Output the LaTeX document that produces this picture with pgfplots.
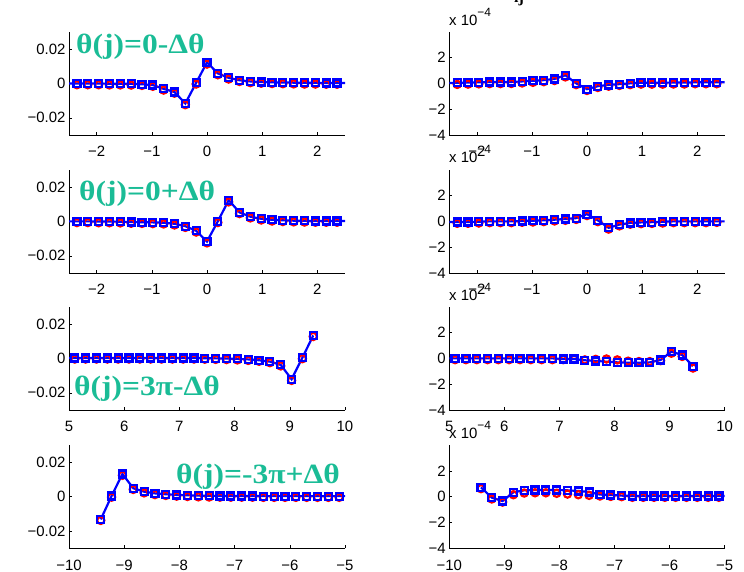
\documentclass[border=0pt]{standalone}
\usepackage{pgfplots}
\pgfplotsset{compat=1.18}
\usepackage{pgfplotstable}
\usepackage{graphicx}
\usepackage{fontspec}
\setmainfont{Liberation Sans}
\newfontfamily\annfont{Liberation Serif}
\definecolor{teal}{RGB}{26,188,150}

\pgfplotstableread{
x b r
-2.5525 -0.0001 -0.0008
-2.3562 -0.0001 -0.0008
-2.1598 -0.0001 -0.0008
-1.9635 -0.0001 -0.0008
-1.7671 -0.0002 -0.0009
-1.5708 -0.0002 -0.0009
-1.3744 -0.0003 -0.0010
-1.1781 -0.0005 -0.0012
-0.9817 -0.0010 -0.0017
-0.7854 -0.0032 -0.0039
-0.5890 -0.0050 -0.0057
-0.3927 -0.0117 -0.0124
-0.1963 0.0003 -0.0004
0 0.0122 0.0112
0.1963 0.0058 0.0050
0.3927 0.0032 0.0025
0.5890 0.0018 0.0011
0.7854 0.0011 0.0004
0.9817 0.0008 0.0001
1.1781 0.0006 -0.0001
1.3744 0.0005 -0.0002
1.5708 0.0004 -0.0003
1.7671 0.0003 -0.0004
1.9635 0.0003 -0.0004
2.1598 0.0002 -0.0005
2.3562 0.0002 -0.0005
2.5525 0.0002 -0.0005
}\tA

\pgfplotstableread{
x b r
-2.5525 0.0000 -0.0007
-2.3562 0.0000 -0.0007
-2.1598 0.0000 -0.0007
-1.9635 -0.0001 -0.0008
-1.7671 -0.0001 -0.0008
-1.5708 -0.0002 -0.0009
-1.3744 -0.0004 -0.0011
-1.1781 -0.0005 -0.0012
-0.9817 -0.0006 -0.0013
-0.7854 -0.0008 -0.0015
-0.5890 -0.0014 -0.0021
-0.3927 -0.0028 -0.0035
-0.1963 -0.0055 -0.0062
0 -0.0117 -0.0125
0.1963 0.0000 -0.0007
0.3927 0.0123 0.0113
0.5890 0.0052 0.0045
0.7854 0.0027 0.0020
0.9817 0.0015 0.0008
1.1781 0.0009 0.0002
1.3744 0.0006 -0.0001
1.5708 0.0004 -0.0003
1.7671 0.0003 -0.0004
1.9635 0.0002 -0.0005
2.1598 0.0002 -0.0005
2.3562 0.0002 -0.0005
2.5525 0.0002 -0.0005
}\tB

\pgfplotstableread{
x b r
4.9087 0.0002 -0.0004
5.1051 0.0002 -0.0004
5.3014 0.0002 -0.0004
5.4978 0.0002 -0.0004
5.6941 0.0002 -0.0004
5.8905 0.0002 -0.0004
6.0868 0.0002 -0.0004
6.2832 0.0002 -0.0004
6.4795 0.0002 -0.0004
6.6759 0.0002 -0.0004
6.8722 0.0002 -0.0004
7.0686 0.0002 -0.0004
7.2649 0.0002 -0.0004
7.4613 0.0001 -0.0005
7.6576 0.0000 -0.0006
7.8540 -0.0001 -0.0007
8.0503 -0.0003 -0.0009
8.2467 -0.0006 -0.0012
8.4430 -0.0011 -0.0017
8.6394 -0.0019 -0.0025
8.8357 -0.0038 -0.0044
9.0321 -0.0121 -0.0128
9.2284 0.0004 -0.0002
9.4248 0.0133 0.0127
}\tC

\pgfplotstableread{
x b r
-9.4248 -0.0132 -0.0138
-9.2284 0.0004 -0.0003
-9.0321 0.0132 0.0124
-8.8357 0.0049 0.0042
-8.6394 0.0029 0.0022
-8.4430 0.0019 0.0012
-8.2467 0.0014 0.0007
-8.0503 0.0010 0.0003
-7.8540 0.0008 0.0001
-7.6576 0.0006 -0.0001
-7.4613 0.0005 -0.0002
-7.2649 0.0004 -0.0003
-7.0686 0.0004 -0.0003
-6.8722 0.0004 -0.0003
-6.6759 0.0004 -0.0003
-6.4795 0.0003 -0.0004
-6.2832 0.0003 -0.0004
-6.0868 0.0003 -0.0004
-5.8905 0.0003 -0.0004
-5.6941 0.0003 -0.0004
-5.4978 0.0003 -0.0004
-5.3014 0.0003 -0.0004
-5.1051 0.0003 -0.0004
-4.9087 0.0003 -0.0004
}\tD

\pgfplotstableread{
x b r
-2.5525 0.03 -0.08
-2.3562 0.04 -0.08
-2.1598 0.06 -0.06
-1.9635 0.08 -0.04
-1.7671 0.10 -0.02
-1.5708 0.10 -0.02
-1.3744 0.11 -0.01
-1.1781 0.15 0.03
-0.9817 0.20 0.08
-0.7854 0.25 0.13
-0.5890 0.34 0.22
-0.3927 0.63 0.50
-0.1963 0.00 -0.10
0 -0.45 -0.55
0.1963 -0.22 -0.32
0.3927 -0.12 -0.22
0.5890 -0.06 -0.16
0.7854 0.00 -0.10
0.9817 0.05 -0.06
1.1781 0.05 -0.06
1.3744 0.05 -0.06
1.5708 0.06 -0.05
1.7671 0.06 -0.05
1.9635 0.08 -0.03
2.1598 0.08 -0.03
2.3562 0.08 -0.03
2.5525 0.08 -0.03
}\tE

\pgfplotstableread{
x b r
-2.5525 -0.05 -0.15
-2.3562 -0.05 -0.15
-2.1598 -0.05 -0.15
-1.9635 -0.03 -0.13
-1.7671 0.00 -0.10
-1.5708 0.00 -0.10
-1.3744 0.00 -0.10
-1.1781 0.03 -0.07
-0.9817 0.05 -0.05
-0.7854 0.08 -0.02
-0.5890 0.13 0.03
-0.3927 0.18 0.08
-0.1963 0.25 0.15
0 0.56 0.45
0.1963 0.08 -0.02
0.3927 -0.50 -0.60
0.5890 -0.25 -0.35
0.7854 -0.12 -0.22
0.9817 -0.08 -0.18
1.1781 -0.06 -0.16
1.3744 -0.03 -0.13
1.5708 0.00 -0.10
1.7671 0.00 -0.10
1.9635 0.00 -0.10
2.1598 0.00 -0.10
2.3562 0.00 -0.08
2.5525 0.00 -0.08
}\tF

\pgfplotstableread{
x b r
4.9087 0.00 -0.10
5.1051 0.00 -0.10
5.3014 0.00 -0.10
5.4978 0.00 -0.10
5.6941 0.00 -0.10
5.8905 0.00 -0.10
6.0868 0.00 -0.10
6.2832 0.00 -0.10
6.4795 0.00 -0.10
6.6759 0.00 -0.10
6.8722 0.00 -0.10
7.0686 -0.05 -0.10
7.2649 -0.05 -0.08
7.4613 -0.15 -0.12
7.6576 -0.20 -0.08
7.8540 -0.26 -0.05
8.0503 -0.31 -0.12
8.2467 -0.34 -0.22
8.4430 -0.34 -0.25
8.6394 -0.31 -0.25
8.8357 -0.13 -0.18
9.0321 0.52 0.40
9.2284 0.26 0.15
9.4248 -0.60 -0.75
}\tG

\pgfplotstableread{
x b r
-9.4248 0.72 0.62
-9.2284 -0.08 -0.18
-9.0321 -0.34 -0.42
-8.8357 0.34 0.15
-8.6394 0.49 0.28
-8.4430 0.52 0.30
-8.2467 0.52 0.30
-8.0503 0.52 0.26
-7.8540 0.49 0.20
-7.6576 0.44 0.15
-7.4613 0.36 0.10
-7.2649 0.16 0.05
-7.0686 0.13 0.02
-6.8722 0.08 0.00
-6.6759 0.05 -0.05
-6.4795 0.05 -0.05
-6.2832 0.05 -0.05
-6.0868 0.05 -0.05
-5.8905 0.05 -0.05
-5.6941 0.05 -0.05
-5.4978 0.05 -0.05
-5.3014 0.05 -0.05
-5.1051 0.05 -0.05
-4.9087 0.05 -0.05
}\tH

\pgfplotsset{
  myax/.style={
    scale only axis, width=276bp, height=103.3bp, anchor=south west,
    axis x line=bottom, axis y line=left, axis line style={-, black, line width=0.6bp},
    tick align=inside, major tick length=3bp, tick style={black, line width=0.5bp},
    ticklabel style={font=\fontsize{15}{15}\selectfont},
    xticklabel style={yshift=-8bp},
    scaled x ticks=false, scaled y ticks=false,
    clip=true,
  },
  leftax/.style={myax, ymin=-0.03, ymax=0.03, ytick={-0.02,0,0.02}, yticklabels={−0.02,0,0.02}},
  rightax/.style={myax, ymin=-4, ymax=4, ytick={-4,-2,0,2}, yticklabels={−4,−2,0,2}},
  xa/.style={xmin=-2.5, xmax=2.5, xtick={-2,-1,0,1,2}, xticklabels={−2,−1,0,1,2}},
  xb/.style={xmin=5, xmax=10, xtick={5,6,7,8,9,10}, xticklabels={5,6,7,8,9,10}},
  xc/.style={xmin=-10, xmax=-5, xtick={-10,-9,-8,-7,-6,-5}, xticklabels={−10,−9,−8,−7,−6,−5}},
  redm/.style={red, only marks, mark=o, mark size=3.6bp, line width=2.2bp},
  blul/.style={blue, line width=2.2bp, no marks},
  blum/.style={blue, only marks, mark=square, mark size=3.5bp, line width=2.2bp},
}

\newcommand{\plotset}[3]{%
  \addplot[redm, restrict x to domain=#2:#3] table[x=x,y=r] {#1};
  \addplot[blul] table[x=x,y=b] {#1};
  \addplot[blum, restrict x to domain=#2:#3] table[x=x,y=b] {#1};
}
\newcommand{\scalelab}[2]{%
  \node[anchor=base west, inner sep=0, font=\fontsize{15}{15}\selectfont] at (#1bp,-#2bp)
    {x 10\raisebox{9bp}{\fontsize{12}{12}\selectfont −4}};
}
\newcommand{\ann}[3]{%
  \node[anchor=base west, inner sep=0, text=teal, font=\annfont\bfseries\fontsize{28}{28}\selectfont] at (#1bp,-#2bp) {\scalebox{1.13}[1]{#3}};
}

\begin{document}
\begin{tikzpicture}
\path[use as bounding box] (0,0) rectangle (744bp,-572bp);

% row 1
\begin{axis}[leftax, xa, at={(69bp,-135bp)}]
\plotset{\tA}{-2.5}{2.5}
\end{axis}
\begin{axis}[rightax, xa, at={(449.3bp,-135bp)}, width=275.4bp]
\plotset{\tE}{-2.5}{2.5}
\end{axis}

% row 2
\begin{axis}[leftax, xa, at={(69bp,-273bp)}]
\plotset{\tB}{-2.5}{2.5}
\end{axis}
\begin{axis}[rightax, xa, at={(449.3bp,-273bp)}, width=275.4bp]
\plotset{\tF}{-2.5}{2.5}
\end{axis}

% row 3
\begin{axis}[leftax, xb, at={(69bp,-410bp)}]
\plotset{\tC}{5}{10}
\end{axis}
\begin{axis}[rightax, xb, at={(449.3bp,-410bp)}, width=275.4bp]
\plotset{\tG}{5}{10}
\end{axis}

% row 4
\begin{axis}[leftax, xc, at={(69bp,-548.3bp)}]
\plotset{\tD}{-10}{-5}
\end{axis}
\begin{axis}[rightax, xc, at={(449.3bp,-548.3bp)}, width=275.4bp]
\plotset{\tH}{-10}{-5}
\end{axis}

\scalelab{449}{25}
\scalelab{449}{162.6}
\scalelab{449}{300}
\scalelab{449}{438.3}

\node[anchor=base west, inner sep=0, font=\annfont\bfseries\fontsize{16}{16}\selectfont] at (514bp,-2bp) {ij};

\ann{76}{53}{θ(j)=0-Δθ}
\ann{79}{200}{θ(j)=0+Δθ}
\ann{74}{395}{θ(j)=3π-Δθ}
\ann{176}{483}{θ(j)=-3π+Δθ}
\end{tikzpicture}
\end{document}
